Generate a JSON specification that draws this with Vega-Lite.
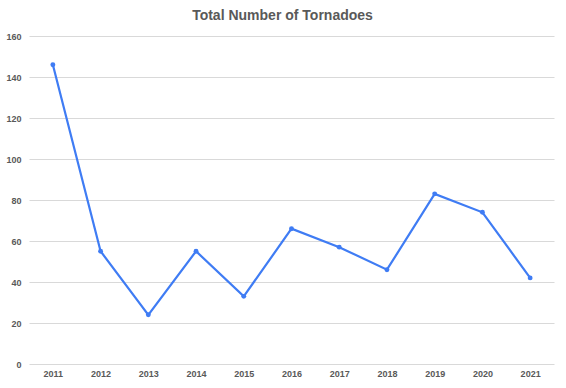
{
  "$schema": "https://vega.github.io/schema/vega-lite/v6.json",
  "autosize": "none",
  "width": 525,
  "height": 328,
  "padding": {"left": 29, "top": 36, "right": 12, "bottom": 24},
  "background": "white",
  "title": {
    "text": "Total Number of Tornadoes",
    "font": "Liberation Sans",
    "fontSize": 14,
    "fontWeight": "bold",
    "color": "#595959",
    "anchor": "middle",
    "dx": -9,
    "baseline": "alphabetic",
    "offset": -2
  },
  "data": {
    "values": [
      {"year": "2011", "count": 146},
      {"year": "2012", "count": 55},
      {"year": "2013", "count": 24},
      {"year": "2014", "count": 55},
      {"year": "2015", "count": 33},
      {"year": "2016", "count": 66},
      {"year": "2017", "count": 57},
      {"year": "2018", "count": 46},
      {"year": "2019", "count": 83},
      {"year": "2020", "count": 74},
      {"year": "2021", "count": 42}
    ]
  },
  "encoding": {
    "x": {
      "field": "year",
      "type": "ordinal",
      "scale": {"type": "point", "padding": 0.5},
      "axis": {
        "title": null,
        "labelAngle": 0,
        "ticks": false,
        "domain": false,
        "grid": false,
        "labelPadding": 5,
        "labelFont": "Liberation Sans",
        "labelFontSize": 9,
        "labelFontWeight": "bold",
        "labelColor": "#595959"
      }
    },
    "y": {
      "field": "count",
      "type": "quantitative",
      "scale": {"domain": [0, 160]},
      "axis": {
        "title": null,
        "values": [0, 20, 40, 60, 80, 100, 120, 140, 160],
        "ticks": false,
        "domain": false,
        "gridColor": "#d9d9d9",
        "gridWidth": 1,
        "labelPadding": 8,
        "labelFont": "Liberation Sans",
        "labelFontSize": 9,
        "labelFontWeight": "bold",
        "labelColor": "#595959"
      }
    }
  },
  "layer": [
    {"mark": {"type": "line", "color": "#3f7cf4", "strokeWidth": 2.2}},
    {"mark": {"type": "point", "filled": true, "color": "#3f7cf4", "size": 24, "opacity": 1}}
  ],
  "config": {"view": {"stroke": null}}
}
